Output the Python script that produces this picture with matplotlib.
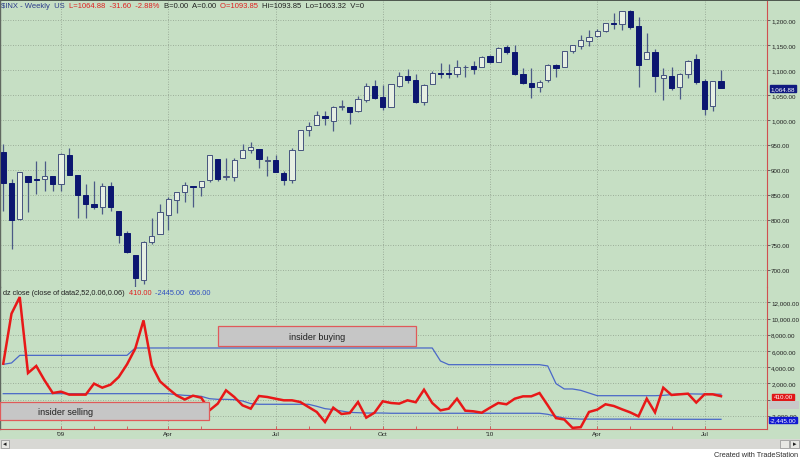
import matplotlib
matplotlib.use('Agg')
import matplotlib.pyplot as plt
from matplotlib import font_manager
import numpy as np
import pandas as pd
from matplotlib.patches import Rectangle

plt.rcParams['font.family'] = ['Liberation Sans', 'DejaVu Sans']
_names = {f.name for f in font_manager.fontManager.ttflist}
if 'Liberation Sans Narrow' in _names:
    AXFONT = ['Liberation Sans Narrow', 'Liberation Sans', 'DejaVu Sans']
    AXSIZE = 5.5
else:
    AXFONT = ['Liberation Sans', 'DejaVu Sans']
    AXSIZE = 4.5

# ---------------- data ----------------
week_start = '2008-11-10'
opens = [936.75, 873.23, 801.20, 888.61, 882.71, 881.07, 887.20, 872.37, 929.17, 890.40,
         849.64, 832.50, 825.44, 868.24, 818.61, 773.25, 729.57, 680.76, 756.55, 771.54,
         809.07, 839.75, 856.85, 868.27, 866.23, 879.21, 922.99, 886.07, 887.00, 923.26,
         940.35, 942.45, 918.13, 919.86, 894.27, 879.57, 940.38, 979.89, 990.22, 1008.89,
         998.18, 1026.60, 1025.21, 1018.67, 1040.46, 1067.14, 1045.38, 1026.87, 1068.31, 1088.22,
         1080.36, 1036.18, 1072.31, 1094.13, 1094.04, 1091.07, 1105.52, 1107.84, 1105.31, 1127.53,
         1116.56, 1145.96, 1136.03, 1092.40, 1073.89, 1065.51, 1079.13, 1110.00, 1105.36, 1138.40,
         1148.53, 1157.25, 1167.71, 1178.71, 1194.94, 1192.06, 1217.07, 1188.58, 1122.27, 1136.52,
         1084.78, 1087.30, 1065.84, 1091.21, 1121.47, 1077.50, 1028.09, 1077.23]
highs = [951.95, 882.29, 896.25, 888.61, 918.57, 918.85, 887.37, 934.70, 943.85, 890.40,
         871.70, 877.86, 874.09, 875.01, 818.61, 777.85, 729.57, 758.29, 803.04, 832.98,
         845.61, 856.91, 875.63, 868.27, 878.93, 930.17, 922.99, 924.60, 923.67, 951.78,
         956.23, 942.45, 928.00, 930.12, 898.72, 943.96, 979.42, 996.68, 1018.00, 1018.00,
         1027.59, 1039.47, 1025.21, 1048.18, 1074.77, 1080.15, 1069.62, 1071.51, 1096.56, 1101.36,
         1091.93, 1071.48, 1097.63, 1113.69, 1112.38, 1119.13, 1110.72, 1117.68, 1128.47, 1130.38,
         1145.39, 1149.74, 1150.45, 1103.69, 1104.73, 1080.04, 1112.42, 1112.29, 1139.00, 1150.00,
         1169.28, 1180.69, 1181.43, 1194.66, 1213.92, 1217.28, 1219.80, 1205.13, 1173.57, 1141.88,
         1104.95, 1105.67, 1094.27, 1119.08, 1131.23, 1082.60, 1078.16, 1099.08]
lows = [818.69, 741.02, 799.92, 815.69, 851.35, 857.72, 857.09, 857.34, 889.01, 804.30,
        804.47, 821.67, 812.87, 818.41, 754.25, 734.52, 666.79, 672.88, 751.27, 771.54,
        779.81, 814.53, 836.93, 826.83, 847.12, 875.33, 878.94, 879.61, 878.94, 923.26,
        934.11, 903.78, 888.86, 896.42, 869.32, 875.00, 940.38, 968.65, 990.22, 991.00,
        978.51, 1021.00, 991.97, 1017.00, 1036.14, 1041.17, 1019.95, 1025.21, 1066.00, 1074.31,
        1033.38, 1029.38, 1072.31, 1085.00, 1083.74, 1086.25, 1085.89, 1091.86, 1105.31, 1114.81,
        1116.56, 1131.39, 1090.18, 1071.59, 1044.50, 1056.51, 1075.58, 1086.02, 1105.36, 1134.90,
        1141.45, 1148.67, 1165.77, 1175.12, 1181.62, 1180.30, 1181.62, 1065.79, 1122.27, 1055.90,
        1040.78, 1060.00, 1042.17, 1084.78, 1071.13, 1010.91, 1018.35, 1063.32]
closes = [873.29, 800.03, 896.24, 876.07, 879.73, 887.88, 872.80, 931.80, 890.35, 850.12,
          831.95, 825.88, 868.60, 826.84, 770.05, 735.09, 683.38, 756.55, 768.54, 815.94,
          842.50, 856.56, 869.60, 866.23, 877.52, 929.23, 882.88, 887.00, 919.14, 940.09,
          946.21, 921.23, 918.90, 896.42, 879.13, 940.38, 979.26, 987.48, 1010.48, 1004.09,
          1026.13, 1028.93, 1016.40, 1042.73, 1068.30, 1044.38, 1025.21, 1071.49, 1087.68, 1079.60,
          1036.19, 1069.30, 1093.48, 1091.38, 1091.49, 1105.98, 1106.41, 1102.47, 1126.48, 1115.10,
          1144.98, 1136.03, 1091.76, 1073.87, 1066.19, 1075.51, 1109.17, 1104.49, 1138.70, 1149.99,
          1159.90, 1166.59, 1178.10, 1194.37, 1192.13, 1217.28, 1186.69, 1110.88, 1135.68, 1087.69,
          1089.41, 1064.88, 1091.60, 1117.51, 1076.76, 1022.58, 1077.96, 1064.88]

insider_ratio = [4420, 10600, 12650, 3270, 4140, 2370, 800, 970, 600, 600,
                 600, 1960, 1460, 1830, 2780, 4340, 6280, 9770, 4220, 2240,
                 1340, 510, 0, 470, 220, -1340, -510, 1130, 310, -720,
                 -1130, 430, 310, 100, -100, -100, -310, -930, -1540, -2780,
                 -1010, -1790, -1670, -310, -2240, -1630, -220, -430, -510, -100,
                 -340, 1210, -430, -1340, -1130, 100, -1380, -1460, -1630, -1010,
                 -430, -590, 100, 390, 390, 800, -720, -2300, -2470, -3500,
                 -3420, -1540, -1250, -590, -800, -1210, -1590, -2080, 100, -1590,
                 1460, 560, 640, 720, -380, 640, 640, 410]
upper_band = [4340, 4510, 5450, 5450, 5450, 5450, 5450, 5450, 5450, 5450,
              5450, 5450, 5450, 5450, 5450, 5450, 6360, 6360, 6360, 6360,
              6360, 6360, 6360, 6360, 6360, 6360, 6360, 6360, 6360, 6360,
              6360, 6360, 6360, 6360, 6360, 6360, 6360, 6360, 6360, 6360,
              6360, 6360, 6360, 6360, 6360, 6360, 6360, 6360, 6360, 6360,
              6360, 6360, 6360, 4750, 4300, 4300, 4300, 4300, 4300, 4300,
              4300, 4300, 4300, 4300, 4300, 4300, 4140, 1960, 1300, 1300,
              1130, 800, 470, 470, 470, 470, 470, 470, 470, 470,
              510, 600, 720, 700, 680, 670, 660, 656]
lower_band = [720, 720, 720, 720, 720, 720, 720, 720, 720, 720,
              720, 720, 720, 720, 720, 720, 720, 720, 720, 720,
              720, 600, 510, 470, 390, 100, 20, 20, -20, -180,
              -510, -590, -590, -590, -590, -590, -590, -590, -840, -1130,
              -1250, -1420, -1590, -1630, -1670, -1670, -1670, -1700, -1700, -1700,
              -1700, -1700, -1700, -1700, -1700, -1700, -1700, -1700, -1700, -1700,
              -1700, -1700, -1700, -1700, -1700, -1700, -1830, -2080, -2300, -2370,
              -2420, -2420, -2420, -2420, -2420, -2420, -2420, -2430, -2430, -2430,
              -2430, -2440, -2440, -2440, -2445, -2445, -2445, -2445]

price_ticks = [700, 750, 800, 850, 900, 950, 1000, 1050, 1100, 1150, 1200]
osc_ticks = [-2000, 0, 2000, 4000, 6000, 8000, 10000, 12000]
quarter_labels = ["'09", 'Apr', 'Jul', 'Oct', "'10", 'Apr', 'Jul']

# ---------------- layout ----------------
W, H = 800, 460
BG = '#c6dfc4'
GRID = '#8e9e8c'
fig = plt.figure(figsize=(W / 100, H / 100), dpi=100)
fig.patch.set_facecolor('white')

def fr(x0, y0, x1, y1):
    return [x0 / W, 1 - y1 / H, (x1 - x0) / W, (y1 - y0) / H]

# background regions
fig.patches.append(Rectangle((0, 1 - 440 / H), 1, 440 / H, transform=fig.transFigure,
                             facecolor=BG, edgecolor='none', zorder=-10))
fig.patches.append(Rectangle((0, 1 - 2 / H), 1, 2 / H, transform=fig.transFigure,
                             facecolor='#505a50', edgecolor='none', zorder=-9))
fig.patches.append(Rectangle((0, 1 - 450 / H), 1, 10 / H, transform=fig.transFigure,
                             facecolor='#d8d8d4', edgecolor='none', zorder=-9))
fig.patches.append(Rectangle((1 / W, 1 - 449 / H), 8 / W, 8 / H, transform=fig.transFigure,
                             facecolor='#e8e8e4', edgecolor='#909090', lw=0.5, zorder=-8))
fig.patches.append(Rectangle((780 / W, 1 - 449 / H), 9 / W, 8 / H, transform=fig.transFigure,
                             facecolor='#e8e8e4', edgecolor='#909090', lw=0.5, zorder=-8))
fig.patches.append(Rectangle((790 / W, 1 - 449 / H), 9 / W, 8 / H, transform=fig.transFigure,
                             facecolor='#e8e8e4', edgecolor='#909090', lw=0.5, zorder=-8))
fig.text(5 / W, 1 - 445 / H, '\u25c2', fontsize=5, ha='center', va='center', color='#202020')
fig.text(794.5 / W, 1 - 445 / H, '\u25b8', fontsize=5, ha='center', va='center', color='#202020')
fig.text(798 / W, 1 - 455.5 / H, 'Created with TradeStation', fontsize=5.3, ha='right',
         va='center', color='#303030', family=AXFONT)

dates = pd.date_range(week_start, periods=len(closes), freq='W-MON')
x = np.arange(len(closes))
XL = (-3.25 / 8.25, 763.75 / 8.25)

# quarter ticks: weeks containing the 1st of Jan/Apr/Jul/Oct
qpos = [i for i, d in enumerate(dates)
        if (d + pd.Timedelta(days=6)).month != d.month and (d + pd.Timedelta(days=6)).month in (1, 4, 7, 10)]
mpos = [i for i, d in enumerate(dates) if (d + pd.Timedelta(days=6)).month != d.month]

# ---------------- price panel ----------------
ax = fig.add_axes(fr(0, 2, 767, 288))
ax.set_facecolor('none')
ax.set_xlim(*XL)
ax.set_ylim(700 + (271 - 288) * 2, 700 + (271 - 2) * 2)
for t in price_ticks:
    ax.axhline(t, color=GRID, lw=0.6, ls=(0, (1, 2)), zorder=0)
for q in qpos:
    ax.axvline(q, color=GRID, lw=0.6, ls=(0, (1, 2)), zorder=0)

o = np.array(opens); c = np.array(closes); h = np.array(highs); l = np.array(lows)
up = c >= o
ax.vlines(x, l, h, color='#4b5a86', lw=0.9, zorder=2)
body_b = np.minimum(o, c)
body_h = np.maximum(np.abs(c - o), 1.2)
ax.bar(x[up], body_h[up], bottom=body_b[up], width=0.62, color='#e6efe3',
       edgecolor='#45537e', lw=0.7, zorder=3)
ax.bar(x[~up], body_h[~up], bottom=body_b[~up], width=0.62, color='#0c1670',
       edgecolor='#0c1670', lw=0.7, zorder=3)

ax.yaxis.tick_right()
ax.set_yticks(price_ticks)
ax.set_yticklabels([f'{t:,.2f}' for t in price_ticks], family=AXFONT)
ax.tick_params(axis='y', length=2, width=0.6, color='#505050', labelsize=AXSIZE, pad=1.0,
               labelcolor='#202020')
ax.set_xticks([])
for s in ax.spines.values():
    s.set_visible(False)
ax.spines['right'].set_visible(True)
ax.spines['right'].set_color('#d05050')
ax.spines['right'].set_linewidth(0.8)
ax.spines['left'].set_visible(True)
ax.spines['left'].set_color('#606860')
ax.spines['left'].set_linewidth(1.0)

# header
hdr_y = 1 - 7 / H
parts = [('$INX - Weekly  US  ', '#2a3a8a'), ('L=1064.88  -31.60  -2.88%  ', '#e02020'),
         ('B=0.00  A=0.00  ', '#202020'), ('O=1093.85  ', '#e02020'),
         ('Hi=1093.85  Lo=1063.32  V=0', '#202020')]
renderer = fig.canvas.get_renderer()
xx = 1 / W
for txt, col in parts:
    t = fig.text(xx, hdr_y, txt, fontsize=5.5, color=col, va='center', ha='left')
    bb = t.get_window_extent(renderer=renderer)
    xx += bb.width / W

# last price tag
fig.text(783 / W, 1 - 89.3 / H, '1,064.88', fontsize=AXSIZE, color='white', ha='center',
         va='center', family=AXFONT,
         bbox=dict(boxstyle='square,pad=0.15', fc='#101a80', ec='#101a80'))

# ---------------- oscillator panel ----------------
ax2 = fig.add_axes(fr(0, 288, 767, 429.5))
ax2.set_facecolor('none')
ax2.set_xlim(*XL)
k = 2000 / 16.2
ax2.set_ylim(-(429.5 - 400.5) * k, (400.5 - 288) * k)
for t in osc_ticks:
    ax2.axhline(t, color=GRID, lw=0.6, ls=(0, (1, 2)), zorder=0)
for q in qpos:
    ax2.axvline(q, color=GRID, lw=0.6, ls=(0, (1, 2)), zorder=0)

ax2.plot(x, upper_band, color='#4a68c8', lw=0.9, zorder=2)
ax2.plot(x, lower_band, color='#4a68c8', lw=0.9, zorder=2)
ax2.plot(x, insider_ratio, color='#e81818', lw=1.8, zorder=3, solid_joinstyle='miter')

# annotation boxes
ax2.add_patch(Rectangle(((217.7 - 3.25) / 8.25, (400.5 - 346.7) * k),
                        (415.7 - 217.7) / 8.25, (346.7 - 327) * k,
                        facecolor='#c6c6c6', edgecolor='#e05a5a', lw=0.9, zorder=4))
ax2.text((316.7 - 3.25) / 8.25, (400.5 - 337) * k, 'insider buying', fontsize=6.5,
         ha='center', va='center', color='#202020', zorder=5)
ax2.add_patch(Rectangle((XL[0], (400.5 - 421.3) * k), (209.3 - 0) / 8.25,
                        (421.3 - 403) * k,
                        facecolor='#c6c6c6', edgecolor='#e05a5a', lw=0.9, zorder=4))
ax2.text((38 - 3.25) / 8.25, (400.5 - 412.2) * k, 'insider selling', fontsize=6.5,
         ha='left', va='center', color='#202020', zorder=5)

ax2.yaxis.tick_right()
ax2.set_yticks(osc_ticks)
ax2.set_yticklabels(['' if t == 0 else f'{t:,.2f}' for t in osc_ticks], family=AXFONT)
ax2.tick_params(axis='y', length=2, width=0.6, color='#505050', labelsize=AXSIZE, pad=1.0,
                labelcolor='#202020')
ax2.set_xticks(qpos)
ax2.set_xticklabels(quarter_labels, family=AXFONT)
ax2.set_xticks(mpos, minor=True)
ax2.tick_params(axis='x', which='both', length=2, width=0.6, color='#d05050', labelsize=AXSIZE,
                pad=2, labelcolor='#202020', direction='in')
for s in ax2.spines.values():
    s.set_visible(False)
for sname in ('right', 'bottom'):
    ax2.spines[sname].set_visible(True)
    ax2.spines[sname].set_color('#d05050')
    ax2.spines[sname].set_linewidth(0.8)
ax2.spines['left'].set_visible(True)
ax2.spines['left'].set_color('#606860')
ax2.spines['left'].set_linewidth(1.0)

# oscillator header
hy = 1 - 294 / H
xx = 3 / W
for txt, col in [('dz close (close of data2,52,0.06,0.06)  ', '#202020'), ('410.00  ', '#e02020'),
                 ('-2445.00  ', '#3050c0'), ('656.00', '#3050c0')]:
    t = fig.text(xx, hy, txt, fontsize=5.3, color=col, va='center', ha='left')
    bb = t.get_window_extent(renderer=renderer)
    xx += bb.width / W

# right value tags
fig.text(783 / W, 1 - 398 / H, '410.00', fontsize=AXSIZE, color='white', ha='center',
         va='center', family=AXFONT,
         bbox=dict(boxstyle='square,pad=0.15', fc='#e01818', ec='#e01818'))
fig.patches.append(Rectangle((768.5 / W, 1 - 410 / H), 30 / W, 8 / H, transform=fig.transFigure,
                             facecolor='#c8c8c8', edgecolor='none', zorder=5))
fig.text(783 / W, 1 - 421 / H, '-2,445.00', fontsize=AXSIZE, color='white', ha='center',
         va='center', family=AXFONT,
         bbox=dict(boxstyle='square,pad=0.15', fc='#1018d0', ec='#1018d0'))

fig.savefig('out.png', dpi=100, facecolor=fig.get_facecolor())
